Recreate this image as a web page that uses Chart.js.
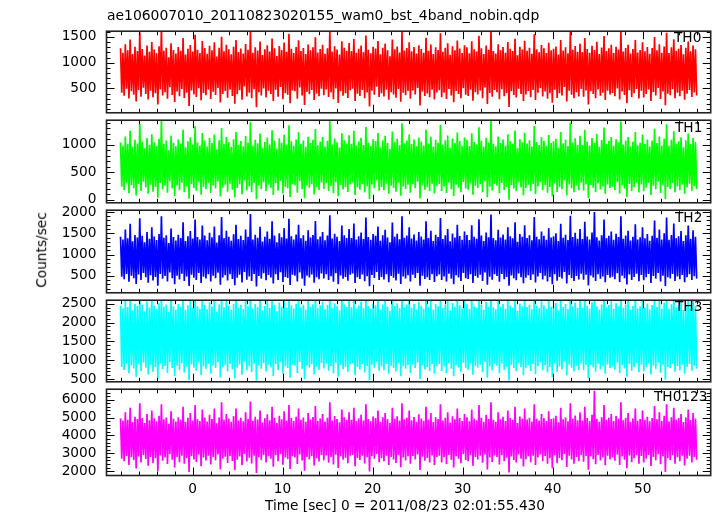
<!DOCTYPE html>
<html><head><meta charset="utf-8">
<script src="https://cdn.jsdelivr.net/npm/chart.js@4/dist/chart.umd.min.js"></script>
<style>
body{margin:0;background:#fff;}
#wrap{position:relative;width:717px;height:516px;overflow:hidden;background:#fff;font-family:"DejaVu Sans",sans-serif;}
canvas{position:absolute;left:0;}
.t{position:absolute;font-size:13.7px;line-height:1;color:#000;white-space:nowrap;z-index:5;}
</style></head><body>
<div id="wrap">
<div class="t" style="left:107px;top:8.6px;font-size:13.9px">ae106007010_20110823020155_wam0_bst_4band_nobin.qdp</div>
<div class="t" style="left:42px;top:250px;transform:translate(-50%,-50%) rotate(-90deg);">Counts/sec</div>
<div class="t" style="left:405px;top:498.6px;transform:translateX(-50%);">Time [sec] 0 = 2011/08/23 02:01:55.430</div>
</div>
<script>
// time span of the light curve (s)
const T0 = -8, T_END = 56;
const X_MIN = -9.56, X_MAX = 57.56;
const X_LABELS = [0,10,20,30,40,50];
const PANEL_NAMES = ['TH0','TH1','TH2','TH3','TH0123'];
const Y_MIN = [29,-52,102,425,1758];
const Y_MAX = [1611,1443,2041,2594,6587];
const Y_TICKS = [[500,1000,1500],[0,500,1000],[500,1000,1500,2000],[500,1000,1500,2000,2500],[2000,3000,4000,5000,6000]];
const Y_MINOR = [100,100,100,100,200];

// Envelope of each dense light curve: per time bin, the highest and lowest rate
const TH0_HI = [
1280,1195,1360,1240,1450,1170,1310,1225,1590,1265,1140,1335,
1210,1400,1255,1185,1320,1660,1230,1290,1105,1375,1245,1180,
1305,1230,1480,1160,1270,1345,1215,1540,1250,1190,1420,1285,
1175,1330,1240,1395,1120,1290,1505,1220,1350,1260,1165,1310,
1440,1205,1275,1180,1365,1250,1620,1195,1300,1235,1410,1150,
1260,1340,1215,1470,1280,1130,1325,1245,1390,1210,1560,1270,
1190,1305,1435,1225,1285,1170,1355,1240,1300,1495,1200,1265,
1350,1175,1280,1640,1215,1320,1255,1160,1415,1290,1230,1380,
1225,1460,1195,1270,1335,1205,1530,1250,1185,1310,1275,1420,
1165,1290,1370,1240,1125,1450,1260,1315,1200,1600,1235,1285,
1395,1220,1305,1180,1340,1265,1195,1485,1230,1355,1170,1300,
1245,1570,1210,1290,1375,1155,1320,1240,1430,1275,1190,1340,
1300,1185,1415,1260,1215,1525,1280,1170,1335,1250,1650,1225,
1180,1360,1240,1305,1195,1400,1270,1225,1465,1145,1310,1255,
1425,1230,1290,1175,1550,1260,1205,1345,1280,1190,1385,1240,
1270,1315,1160,1440,1235,1300,1185,1610,1250,1325,1210,1370,
1205,1480,1265,1195,1330,1245,1405,1170,1295,1520,1225,1280,
1350,1190,1310,1255,1630,1215,1285,1350,1180,1265,1440,1200,
1245,1395,1220,1305,1175,1285,1500,1240,1360,1195,1315,1580,
1190,1300,1455,1230,1270,1345,1165,1290,1410,1220,1335,1260];
const TH0_LO = [
420,360,495,305,445,380,250,470,340,515,395,285,
455,330,410,190,480,365,430,300,525,375,240,440,
350,490,315,420,160,460,385,335,505,270,415,370,
480,295,435,375,510,230,395,450,320,475,355,205,
390,465,280,540,345,420,310,485,135,430,365,500,
325,455,395,260,475,340,530,290,410,380,215,460,
445,300,520,365,180,435,390,470,275,405,350,495,
370,480,335,425,290,500,220,445,360,410,315,465,
495,260,400,355,470,310,425,150,455,380,535,335,
410,345,475,280,430,385,320,490,245,420,370,450,
300,460,385,510,170,440,355,405,330,475,285,425,
465,330,420,295,490,365,235,450,395,310,505,380,
355,475,265,430,385,460,310,520,200,415,340,470,
430,290,485,350,410,140,445,375,325,495,395,260,
385,450,330,470,275,420,505,345,440,300,410,225,
475,315,410,365,530,250,455,380,310,430,345,490,
340,460,190,445,395,310,480,360,420,275,455,385,
415,350,500,285,440,375,215,465,330,410,490,305,
455,325,395,480,260,430,365,510,295,440,175,400,
370,485,310,420,350,455,280,400,470,335,425,365];

const TH1_HI = [
1040,980,1150,1010,1250,960,1090,1020,1380,1055,935,1120,
1000,1190,1045,975,1105,1440,1015,1075,900,1165,1035,970,
1095,1020,1270,955,1060,1135,1005,1335,1040,985,1210,1075,
965,1120,1030,1185,915,1080,1300,1010,1140,1050,960,1100,
1230,995,1065,970,1155,1040,1410,985,1090,1025,1200,945,
1050,1130,1005,1260,1070,925,1115,1035,1180,1000,1350,1060,
980,1095,1225,1015,1075,960,1145,1030,1090,1285,990,1055,
1140,965,1070,1430,1005,1110,1045,950,1205,1080,1020,1170,
1015,1250,985,1060,1125,995,1320,1040,975,1100,1065,1210,
955,1080,1160,1030,920,1240,1050,1105,990,1390,1025,1075,
1185,1010,1095,970,1130,1055,985,1275,1020,1145,960,1090,
1035,1360,1000,1080,1165,945,1110,1030,1220,1065,980,1130,
1090,975,1205,1050,1005,1315,1070,960,1125,1040,1440,1015,
970,1150,1030,1095,985,1190,1060,1015,1255,935,1100,1045,
1215,1020,1080,965,1340,1050,995,1135,1070,980,1175,1030,
1060,1105,950,1230,1025,1090,975,1400,1040,1115,1000,1160,
995,1270,1055,985,1120,1035,1195,960,1085,1310,1015,1070,
1140,980,1100,1045,1420,1005,1075,1140,970,1055,1230,990,
1035,1185,1010,1095,965,1075,1290,1030,1150,985,1105,1370,
980,1090,1245,1020,1060,1135,955,1080,1200,1010,1125,1050];
const TH1_LO = [
240,180,300,120,265,210,80,290,160,330,225,110,
275,150,235,40,305,190,255,130,340,205,70,260,
175,310,140,245,20,285,215,165,325,95,240,200,
300,125,260,205,335,60,220,275,150,295,185,45,
215,285,105,350,170,245,140,305,10,255,195,320,
155,280,220,90,300,165,345,115,235,210,55,285,
265,130,340,195,30,260,220,290,100,230,180,315,
200,300,160,250,120,320,65,270,190,235,145,285,
315,90,225,185,290,135,250,15,280,210,350,165,
235,175,295,110,255,215,150,310,75,245,200,275,
130,285,210,330,25,265,185,230,160,295,115,250,
290,160,245,125,310,195,70,275,220,140,325,205,
185,300,95,255,215,285,140,340,50,240,170,295,
255,120,305,180,235,5,270,205,155,315,225,85,
215,275,160,290,105,245,325,175,265,130,235,60,
300,145,235,195,350,80,280,210,140,255,175,310,
170,285,35,270,220,140,300,190,245,110,280,215,
240,180,320,115,265,205,55,290,160,235,310,135,
280,155,225,305,90,255,195,330,125,265,15,230,
200,305,140,245,180,280,110,225,295,165,250,195];

const TH2_HI = [
1420,1350,1590,1380,1720,1310,1460,1400,1850,1440,1290,1530,
1370,1640,1425,1340,1480,1900,1395,1455,1270,1610,1410,1330,
1465,1390,1760,1320,1430,1550,1375,1820,1410,1350,1680,1445,
1335,1510,1405,1660,1280,1450,1880,1385,1560,1420,1325,1475,
1700,1365,1440,1340,1590,1415,1950,1355,1465,1395,1650,1305,
1420,1540,1370,1780,1445,1290,1500,1405,1620,1375,1840,1430,
1350,1470,1700,1385,1450,1325,1570,1400,1460,1790,1360,1425,
1530,1335,1445,1920,1375,1490,1415,1315,1680,1455,1390,1600,
1385,1730,1355,1430,1520,1365,1870,1410,1345,1480,1440,1660,
1325,1455,1580,1400,1290,1750,1420,1485,1360,1900,1395,1445,
1640,1375,1470,1330,1530,1425,1350,1780,1390,1560,1320,1465,
1410,1860,1365,1450,1600,1310,1495,1400,1700,1435,1345,1540,
1460,1340,1690,1415,1370,1830,1445,1320,1520,1405,1940,1385,
1335,1580,1400,1470,1350,1640,1430,1380,1760,1300,1480,1415,
1690,1390,1450,1335,1880,1420,1360,1540,1440,1345,1620,1400,
1430,1500,1315,1720,1395,1465,1340,1910,1410,1510,1370,1600,
1365,1770,1425,1350,1520,2000,1405,1330,1455,1820,1385,1440,
1540,1345,1485,1410,1900,1370,1445,1560,1330,1415,1710,1355,
1405,1640,1380,1480,1325,1440,1800,1395,1590,1350,1500,1870,
1345,1460,1730,1385,1430,1550,1315,1450,1680,1370,1570,1420];
const TH2_LO = [
480,420,545,360,505,445,310,530,400,570,465,340,
515,390,475,270,545,430,495,370,580,445,300,500,
415,550,380,485,260,525,455,405,565,330,480,440,
540,365,500,445,575,290,460,515,390,535,425,280,
455,525,345,590,410,485,380,545,250,495,435,560,
395,520,460,320,540,405,585,355,475,450,285,525,
505,370,580,435,265,500,460,530,340,470,420,555,
440,540,400,490,360,560,300,510,430,475,385,525,
555,330,465,425,530,375,490,255,520,450,590,405,
475,415,535,350,495,455,390,550,310,485,440,515,
370,525,450,570,270,505,425,470,400,535,355,490,
530,400,485,365,550,435,305,515,460,380,565,445,
425,540,335,495,455,525,380,580,290,480,410,535,
495,360,545,420,475,265,510,445,395,555,465,325,
455,515,400,530,345,485,565,415,505,370,475,300,
540,385,475,435,590,320,520,450,380,495,415,550,
410,525,275,510,460,380,540,430,485,350,520,455,
480,420,560,355,505,445,295,530,400,475,550,375,
520,395,465,545,330,495,435,570,365,505,260,470,
440,545,380,485,420,520,350,465,535,405,490,435];

const TH3_HI = [
2450,2380,2620,2410,2700,2330,2500,2440,2650,2470,2300,2560,
2400,2680,2455,2360,2510,2750,2420,2480,2280,2640,2435,2350,
2495,2410,2700,2340,2460,2590,2390,2660,2430,2370,2690,2475,
2355,2540,2425,2680,2290,2480,2720,2405,2580,2445,2340,2500,
2690,2390,2470,2360,2610,2430,2760,2375,2490,2415,2660,2320,
2440,2570,2385,2700,2465,2300,2530,2420,2640,2395,2710,2455,
2370,2500,2680,2405,2475,2345,2600,2420,2485,2730,2380,2450,
2560,2355,2470,2770,2395,2515,2435,2330,2690,2480,2410,2620,
2405,2710,2375,2455,2550,2385,2740,2430,2365,2505,2460,2680,
2345,2480,2610,2420,2305,2700,2440,2510,2380,2760,2415,2470,
2660,2395,2500,2350,2555,2445,2370,2720,2410,2590,2340,2490,
2430,2740,2385,2475,2630,2325,2520,2420,2700,2460,2365,2570,
2485,2360,2690,2435,2390,2730,2465,2340,2545,2425,2770,2405,
2355,2610,2420,2495,2370,2660,2450,2400,2720,2315,2505,2435,
2680,2410,2475,2355,2750,2440,2380,2565,2460,2365,2640,2420,
2450,2525,2330,2700,2415,2490,2360,2760,2430,2535,2390,2620,
2385,2720,2445,2370,2540,2690,2425,2350,2480,2740,2405,2465,
2565,2365,2510,2430,2760,2390,2470,2580,2350,2440,2700,2375,
2425,2660,2400,2505,2345,2465,2730,2415,2610,2370,2525,2750,
2365,2485,2710,2405,2455,2575,2335,2475,2690,2390,2595,2440];
const TH3_LO = [
820,740,905,650,860,780,560,890,710,940,800,620,
870,690,820,500,910,760,845,660,950,790,580,855,
730,915,670,835,470,885,800,720,935,600,830,775,
905,640,860,790,945,540,815,880,700,900,760,510,
800,885,610,960,730,840,680,905,455,850,775,925,
700,880,815,580,900,740,955,640,830,795,530,880,
860,660,950,770,490,855,805,895,620,825,740,915,
780,905,720,845,650,930,560,870,760,825,690,890,
920,600,820,755,890,670,845,475,880,800,960,720,
830,735,900,640,855,790,700,915,570,840,770,875,
660,885,795,940,500,860,750,820,715,895,640,845,
895,715,840,660,915,770,575,870,805,690,935,785,
745,905,610,855,800,880,680,950,535,830,730,900,
855,650,910,740,835,460,870,790,705,925,815,600,
800,870,715,895,630,840,935,730,865,670,820,555,
905,690,830,760,960,590,880,800,700,855,740,915,
735,880,510,870,805,690,905,755,840,640,885,795,
840,745,930,650,865,780,560,895,720,820,920,680,
880,705,815,910,620,855,770,940,665,870,480,820,
790,905,690,845,735,880,640,825,900,720,850,770];

const TH0123_HI = [
4950,4820,5300,4880,5550,4750,5050,4920,5800,4980,4700,5200,
4850,5400,4960,4790,5100,5750,4900,5000,4650,5350,4930,4780,
5020,4880,5600,4760,4990,5250,4840,5700,4910,4800,5450,5000,
4780,5150,4920,5500,4680,5010,5850,4870,5200,4950,4760,5080,
5500,4830,4990,4790,5300,4930,5900,4820,5040,4890,5400,4720,
4960,5180,4850,5600,4990,4700,5100,4910,5350,4840,5700,4970,
4800,5050,5500,4870,5000,4760,5250,4900,5030,5650,4820,4950,
5200,4780,4990,5850,4830,5080,4920,4740,5450,5010,4880,5300,
4880,5550,4810,4960,5150,4830,5750,4920,4790,5060,4980,5400,
4760,5010,5250,4900,4690,5550,4930,5070,4840,5800,4900,4990,
5400,4850,5030,4770,5180,4950,4820,5600,4890,5250,4750,5020,
4920,5750,4840,4990,5300,4720,5070,4910,5500,4970,4800,5200,
5010,4790,5450,4940,4850,5700,4990,4760,5150,4920,5850,4870,
4770,5300,4910,5050,4810,5400,4980,4880,5600,4700,5060,4940,
5500,4890,4990,4780,5750,4940,4830,5200,4980,4800,5350,4920,
4960,5100,4740,5550,4900,5010,4790,5800,4930,5110,4850,5300,
4830,5600,4970,4800,5150,6500,4930,4760,5020,5700,4880,4990,
5200,4800,5080,4940,5850,4850,4990,5250,4770,4950,5500,4820,
4920,5400,4870,5040,4790,4980,5650,4900,5300,4810,5100,5750,
4790,5010,5550,4890,4970,5200,4750,5000,5450,4860,5250,4940];
const TH0123_LO = [
2700,2550,2850,2350,2780,2620,2150,2820,2480,2900,2680,2300,
2800,2450,2720,2000,2880,2580,2760,2400,2950,2640,2200,2790,
2500,2870,2420,2740,1950,2830,2650,2520,2920,2280,2760,2600,
2860,2380,2790,2610,2940,2100,2700,2810,2460,2850,2570,2050,
2640,2820,2330,2960,2540,2750,2430,2870,1900,2780,2620,2900,
2480,2840,2700,2250,2890,2560,2950,2360,2760,2680,2120,2830,
2770,2400,2940,2600,2030,2790,2660,2850,2320,2720,2540,2910,
2600,2880,2470,2780,2380,2920,2180,2830,2640,2750,2450,2860,
2900,2280,2720,2620,2860,2430,2780,1980,2840,2690,2960,2500,
2730,2560,2870,2350,2800,2650,2460,2900,2220,2770,2600,2840,
2420,2850,2660,2930,2060,2810,2580,2740,2490,2880,2340,2790,
2860,2490,2780,2390,2910,2640,2200,2840,2700,2440,2950,2620,
2560,2900,2300,2800,2650,2860,2470,2940,2100,2760,2520,2880,
2790,2370,2890,2560,2750,1920,2820,2630,2480,2930,2700,2260,
2650,2830,2500,2870,2340,2770,2940,2550,2850,2410,2720,2160,
2890,2450,2740,2610,2960,2230,2860,2660,2420,2800,2560,2900,
2530,2850,2080,2830,2670,2390,2910,2600,2760,2330,2870,2650,
2760,2580,2920,2340,2820,2640,2170,2880,2500,2730,2900,2420,
2850,2480,2700,2910,2290,2800,2610,2950,2390,2830,1960,2720,
2620,2890,2410,2780,2550,2860,2320,2700,2870,2490,2800,2640];

const SERIES_HI = [TH0_HI, TH1_HI, TH2_HI, TH3_HI, TH0123_HI];
const SERIES_LO = [TH0_LO, TH1_LO, TH2_LO, TH3_LO, TH0123_LO];
const COLORS = ['#ff0000','#00ff00','#0000ff','#00ffff','#ff00ff'];

// layout
const PANEL_EDGES = [27,116.7,206.4,296.1,385.8,475.5];
const PLOT_LEFT = 106.5, PLOT_RIGHT = 710.7;
const FONT = 'DejaVu Sans', FS = 13.7;
const LABEL_LEFT = [674,675,675,675,654];
Chart.defaults.font.family = FONT;

// the dense curve swings between the high and low rate of every bin
function zigzag(hi, lo){
  const out=[];
  for(let k=0;k<hi.length;k++){ out.push(hi[k]); out.push(lo[k]); }
  return out;
}

function framePlugin(i){
  return {
    id:'frame'+i,
    afterDatasetsDraw(chart){
      const {ctx, chartArea:a, scales:{x,y}} = chart;
      ctx.save();
      ctx.strokeStyle='#000'; ctx.lineWidth=1;
      ctx.beginPath();
      for(let v=-8; v<=X_MAX; v+=2){
        const px=Math.round(x.getPixelForValue(v))+0.5;
        const L=(v%10===0)?8:4;
        ctx.moveTo(px,a.top); ctx.lineTo(px,a.top+L);
        ctx.moveTo(px,a.bottom); ctx.lineTo(px,a.bottom-L);
      }
      const mn=Y_MINOR[i];
      for(let v=Math.ceil(Y_MIN[i]/mn)*mn; v<=Y_MAX[i]; v+=mn){
        const py=Math.round(y.getPixelForValue(v))+0.5;
        const L=Y_TICKS[i].includes(v)?8:4;
        ctx.moveTo(a.left,py); ctx.lineTo(a.left+L,py);
        ctx.moveTo(a.right,py); ctx.lineTo(a.right-L,py);
      }
      ctx.stroke();
      ctx.lineWidth=1.6; ctx.strokeStyle='#222';
      ctx.strokeRect(a.left,a.top,a.right-a.left,a.bottom-a.top);
      if(i===SERIES_HI.length-1){
        ctx.fillStyle='#000'; ctx.font=FS+'px "'+FONT+'"';
        ctx.textAlign='center'; ctx.textBaseline='alphabetic';
        X_LABELS.forEach(v=>{ ctx.fillText(String(v), x.getPixelForValue(v), a.bottom+17); });
      }
      ctx.restore();
    }
  };
}

const wrap=document.getElementById('wrap');
const PAD=14;
SERIES_HI.forEach((hi,i)=>{
  const vals=zigzag(hi, SERIES_LO[i]);
  const top=PANEL_EDGES[i], bot=PANEL_EDGES[i+1];
  const extraBottom = (i===SERIES_HI.length-1)?26:0;
  const cTop=Math.floor(top)-PAD;
  const cH=Math.ceil(bot)+PAD+extraBottom-cTop;
  const cv=document.createElement('canvas');
  cv.width=717; cv.height=cH; cv.style.top=cTop+'px';
  wrap.appendChild(cv);
  const dt=(T_END-T0)/(vals.length-1);
  new Chart(cv,{
    type:'line',
    data:{datasets:[{data:vals.map((v,k)=>({x:T0+k*dt,y:v})),borderColor:COLORS[i],borderWidth:1.7,borderJoinStyle:'bevel',borderCapStyle:'butt',pointRadius:0,tension:0,fill:false}]},
    options:{
      responsive:false,animation:false,events:[],
      layout:{padding:{left:0,right:717-PLOT_RIGHT,top:top-cTop,bottom:cTop+cH-bot}},
      plugins:{legend:{display:false},tooltip:{enabled:false},title:{display:false}},
      scales:{
        x:{type:'linear',min:X_MIN,max:X_MAX,display:false},
        y:{type:'linear',min:Y_MIN[i],max:Y_MAX[i],
          grid:{display:false,drawTicks:false},border:{display:false},
          afterFit(s){s.width=PLOT_LEFT;},
          afterBuildTicks(s){s.ticks=Y_TICKS[i].map(v=>({value:v}));},
          ticks:{padding:10,color:'#000',font:{family:FONT,size:FS},autoSkip:false,callback:v=>String(v)}
        }
      }
    },
    plugins:[framePlugin(i)]
  });
  const lab=document.createElement('div');
  lab.className='t'; lab.textContent=PANEL_NAMES[i];
  lab.style.left=LABEL_LEFT[i]+'px'; lab.style.top=(top+4.1)+'px';
  wrap.appendChild(lab);
});
</script>
</body></html>
